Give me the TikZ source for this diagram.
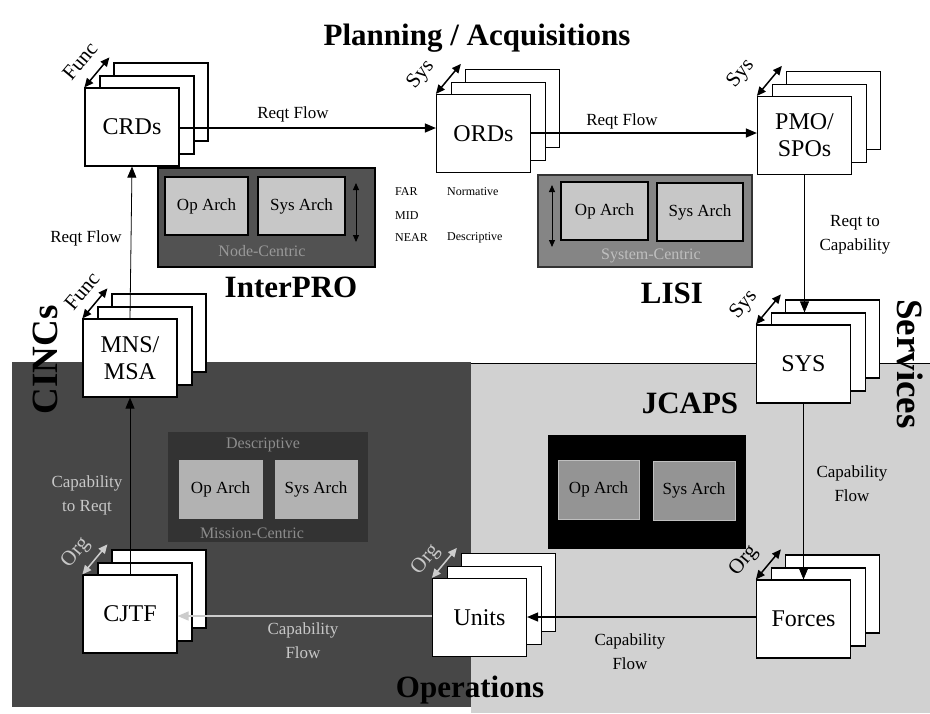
\documentclass[tikz,border=0pt]{standalone}
\usepackage{fontspec}
\setmainfont{Liberation Serif}
\usetikzlibrary{arrows.meta}
\newcommand\boxstack[4]{%
  \node[box] (#1c) at ({#2+29},{#3-25}) {};
  \node[box] (#1b) at ({#2+15},{#3-12}) {};
  \node[box] (#1) at (#2,#3) {#4};}
\begin{document}
\begin{tikzpicture}[x=1pt,y=-1pt,
  box/.style={draw=black, fill=white, line width=1.2pt, minimum width=94pt, minimum height=78pt, inner sep=0pt, align=center, font=\fontsize{24}{27}\selectfont},
  arch/.style={draw=black, line width=1.5pt, fill=black!22, inner sep=0pt, font=\fontsize{17}{19}\selectfont},
  flow/.style={line width=1.3pt, -{Triangle[length=11pt,width=9pt]}},
  thinflow/.style={line width=0.8pt, -{Triangle[length=11pt,width=9pt]}},
  twoway/.style={line width=1.5pt, {Triangle[length=9pt,width=8pt]}-{Triangle[length=9pt,width=8pt]}},
  spanarrow/.style={line width=1pt, {Triangle[length=7pt,width=6pt]}-{Triangle[length=7pt,width=6pt]}},
  lab/.style={font=\fontsize{17}{24}\selectfont, align=center, inner sep=0pt},
  kindtag/.style={font=\fontsize{21}{22}\selectfont, rotate=50, inner sep=0pt},
  big/.style={font=\bfseries\fontsize{31}{33}\selectfont, inner sep=0pt},
  side/.style={font=\bfseries\fontsize{37}{39}\selectfont, inner sep=0pt},
  legendtxt/.style={font=\fontsize{12}{13}\selectfont, inner sep=0pt, anchor=west},
  centric/.style={font=\fontsize{16}{18}\selectfont, inner sep=0pt},
  lighttxt/.style={text=black!22}
]
\useasboundingbox (0,0) rectangle (930,713);
\fill[white] (0,0) rectangle (930,713);
% zones
\fill[black!72] (12,362) rectangle (471,707);
\fill[black!18] (471,363) rectangle (930,713);
\draw[line width=1pt] (471,363) -- (930,363);

% titles
\node[big] (plan) at (477,38) {Planning / Acquisitions};
\node[big] (interpro) at (291,287) {InterPRO};
\node[big] (lisi) at (672,293) {LISI};
\node[big] (jcaps) at (690,403) {JCAPS};
\node[big] (ops) at (470,690) {Operations};
\node[side, rotate=-90] (services) at (910,364) {Services};
\node[side, rotate=90] (cincs) at (45,360) {CINCs};

% InterPRO architecture box
\node[draw=black, line width=1.5pt, fill=black!68, minimum width=217pt, minimum height=99pt, inner sep=0pt] (ipbox) at (266.5,217.5) {};
\node[arch, minimum width=83pt, minimum height=58pt] (ipop) at (206.5,206) {Op Arch};
\node[arch, minimum width=87pt, minimum height=58pt] (ipsys) at (301.5,206) {Sys Arch};
\coordinate (iptop) at (356,183);
\coordinate (ipbot) at (356,242);
\draw[spanarrow] (iptop) -- (ipbot);
\node[centric, text=black!40] (ipcen) at (262,251) {Node-Centric};
\node[legendtxt] (far) at (395,192) {FAR};
\node[legendtxt] (mid) at (395,216) {MID};
\node[legendtxt] (near) at (395,238) {NEAR};
\node[legendtxt] (norm) at (447,192) {Normative};
\node[legendtxt] (desc) at (447,238) {Descriptive};

% LISI architecture box
\node[draw=black!80, line width=1.5pt, fill=black!48, minimum width=214pt, minimum height=92pt, inner sep=0pt] (lisibox) at (645,221) {};
\node[arch, minimum width=87pt, minimum height=58pt] (liop) at (604.5,211) {Op Arch};
\node[arch, minimum width=86pt, minimum height=58pt] (lisys) at (700,212) {Sys Arch};
\coordinate (litop) at (552,185);
\coordinate (libot) at (552,247);
\draw[spanarrow] (litop) -- (libot);
\node[centric, text=black!25] (licen) at (651,256) {System-Centric};

% JCAPS architecture box
\node[draw=black, fill=black, minimum width=197pt, minimum height=113pt, inner sep=0pt] (jcbox) at (646.5,491.5) {};
\node[arch, draw=black!25, line width=1pt, fill=black!42, minimum width=81pt, minimum height=59pt] (jcop) at (598.5,489.5) {Op Arch};
\node[arch, draw=black!25, line width=1pt, fill=black!42, minimum width=82pt, minimum height=59pt] (jcsys) at (694,490.5) {Sys Arch};

% Mission architecture box (CINC zone)
\node[fill=black!80, minimum width=200pt, minimum height=110pt, inner sep=0pt] (mibox) at (268,487) {};
\node[arch, draw=black!30, line width=1pt, fill=black!30, minimum width=83pt, minimum height=58pt] (miop) at (220.5,489) {Op Arch};
\node[arch, draw=black!30, line width=1pt, fill=black!30, minimum width=82pt, minimum height=58pt] (misys) at (316,489) {Sys Arch};
\node[centric, text=black!45] (midesc) at (263,445) {Descriptive};
\node[centric, text=black!45] (micen) at (252,533) {Mission-Centric};

% stacks of boxes
\boxstack{crds}{132}{127}{CRDs}
\boxstack{ords}{483.5}{133.5}{ORDs}
\boxstack{pmo}{804.5}{135.5}{PMO/\\SPOs}
\boxstack{sys}{803.5}{364}{SYS}
\boxstack{mns}{130}{358}{MNS/\\MSA}
\boxstack{cjtf}{130}{614}{CJTF}
\boxstack{units}{479.5}{617.5}{Units}
\boxstack{forces}{803.5}{619}{Forces}

% kind tags with two-way arrows
\draw[twoway] (crds.north west) -- ++(25,-30);
\node[kindtag] (crdstag) at (80,61) {Func};
\draw[twoway] (ords.north west) -- ++(25,-30);
\node[kindtag] (ordstag) at (421,75) {Sys};
\draw[twoway] (pmo.north west) -- ++(25,-30);
\node[kindtag] (pmotag) at (741,74) {Sys};
\draw[twoway] (sys.north west) -- ++(25,-30);
\node[kindtag] (systag) at (744,305) {Sys};
\draw[twoway] (mns.north west) -- ++(25,-30);
\node[kindtag] (mnstag) at (82,291) {Func};
\draw[twoway, draw=black!20] (cjtf.north west) -- ++(25,-30);
\node[kindtag, lighttxt] (cjtftag) at (76,553) {Org};
\draw[twoway, draw=black!20] (units.north west) -- ++(25,-30);
\node[kindtag, lighttxt] (unitstag) at (426,560) {Org};
\draw[twoway] (forces.north west) -- ++(25,-30);
\node[kindtag] (forcestag) at (744,561) {Org};

% flows
\draw[flow] (crds.east |- 0,128) -- (ords.west |- 0,128);
\node[lab] (f1) at (293,114) {Reqt Flow};
\draw[flow] (ords.east |- 0,133) -- (pmo.west |- 0,133);
\node[lab] (f2) at (622,121) {Reqt Flow};
\draw[thinflow] (pmo.south) -- (pmo.south |- sysb.north);
\node[lab] (f3) at (855,235) {Reqt to\\Capability};
\draw[thinflow] (sys.south) -- (sys.south |- forces.north);
\node[lab] (f4) at (852,484) {Capability\\Flow};
\draw[flow] (forces.west |- 0,617) -- (units.east |- 0,617);
\node[lab] (f5) at (630,652) {Capability\\Flow};
\draw[flow, draw=black!20] (units.west |- 0,616) -- (cjtf.east |- 0,616);
\node[lab, lighttxt] (f6) at (303,641) {Capability\\Flow};
\draw[thinflow] (cjtf.north) -- (mns.south);
\node[lab, lighttxt] (f7) at (87,495) {Capability\\to Reqt};
\draw[thinflow] (mns.north) -- (crds.south);
\node[lab] (f8) at (86,238) {Reqt Flow};
\end{tikzpicture}
\end{document}
